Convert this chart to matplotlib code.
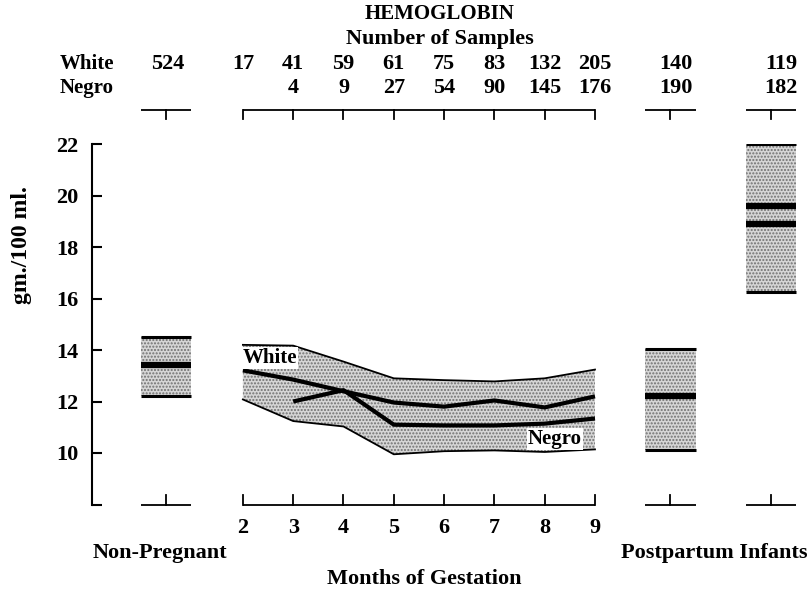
import numpy as np
import matplotlib.pyplot as plt

plt.rcParams['font.family'] = ['Liberation Serif', 'DejaVu Serif']
plt.rcParams['font.weight'] = 'bold'
plt.rcParams['hatch.linewidth'] = 1.0

# months of gestation, band limits and means
months = [2, 3, 4, 5, 6, 7, 8, 9]
band_upper = [14.2, 14.17, 13.55, 12.9, 12.83, 12.78, 12.9, 13.24]
band_lower = [12.08, 11.24, 11.03, 9.95, 10.07, 10.1, 10.04, 10.14]
white_mean = [13.21, 12.85, 12.4, 11.96, 11.8, 12.04, 11.77, 12.2]
negro_months = [3, 4, 5, 6, 7, 8, 9]
negro_mean = [12.0, 12.44, 11.1, 11.07, 11.07, 11.14, 11.34]

# separate groups: (low, high, means)
groups = ['Non-Pregnant', 'Postpartum', 'Infants']
group_x = [0.47, 10.5, 12.5]
group_lo = [12.2, 10.1, 16.25]
group_hi = [14.5, 14.05, 22.0]
group_means = [[13.4], [12.2], [19.6, 18.9]]

# number of samples
count_x = [0.5] + months + [10.6, 12.7]
white_counts = ['524', '17', '41', '59', '61', '75', '83', '132', '205', '140', '119']
negro_counts = ['', '', '4', '9', '27', '54', '90', '145', '176', '190', '182']

yticks = [8, 10, 12, 14, 16, 18, 20, 22]
ytick_labels = ['', '10', '12', '14', '16', '18', '20', '22']

fill_kw = dict(facecolor='#d6d6d6', edgecolor='#707070', hatch='.....', linewidth=0)

fig = plt.figure(figsize=(8.1, 5.89), dpi=100)
ax = fig.add_axes([92 / 810, 1 - 504.5 / 589, 718 / 810, 360.5 / 589])
ax.set_xlim(-1, -1 + 718 / 50.3)
ax.set_ylim(8, 22)

# gestation band
ax.fill_between(months, band_lower, band_upper, zorder=1, **fill_kw)
ax.plot(months, band_upper, color='black', lw=1.3, zorder=2)
ax.plot(months, band_lower, color='black', lw=1.3, zorder=2)
ax.plot(months, white_mean, color='black', lw=3, zorder=3, solid_capstyle='butt')
ax.plot(negro_months, negro_mean, color='black', lw=3, zorder=3, solid_capstyle='butt')
ax.text(2.0, 13.69, 'White', fontsize=15, ha='left', va='center', zorder=4,
        bbox=dict(facecolor='white', edgecolor='none', pad=0.5))
ax.text(7.67, 10.54, 'Negro', fontsize=15, ha='left', va='center', zorder=4,
        bbox=dict(facecolor='white', edgecolor='none', pad=0.5))

# boxes for other groups
hw = 0.5
for x, lo, hi, means in zip(group_x, group_lo, group_hi, group_means):
    ax.fill_between([x - hw, x + hw], [lo, lo], [hi, hi], zorder=1, **fill_kw)
    ax.plot([x - hw, x + hw], [hi, hi], color='black', lw=2.2, zorder=2, solid_capstyle='butt')
    ax.plot([x - hw, x + hw], [lo, lo], color='black', lw=2.2, zorder=2, solid_capstyle='butt')
    for m in means:
        ax.plot([x - hw, x + hw], [m, m], color='black', lw=4.5, zorder=3, solid_capstyle='butt')

# brackets top and bottom
def bracket(x0, x1, ticks, y, dy):
    ax.plot([x0, x1], [y, y], color='black', lw=1.3, clip_on=False, solid_capstyle='butt')
    for t in ticks:
        ax.plot([t, t], [y, y + dy], color='black', lw=1.3, clip_on=False)

top_y, bot_y, tick_len = 23.32, 8.0, 0.36
for x in group_x:
    bracket(x - hw, x + hw, [x], top_y, -tick_len)
    bracket(x - hw, x + hw, [x], bot_y, tick_len)
bracket(months[0], months[-1], months, top_y, -tick_len)
bracket(months[0], months[-1], months, bot_y, tick_len)

# sample counts
for x, w, n in zip(count_x, white_counts, negro_counts):
    ax.text(x, 25.11, w, fontsize=16, ha='center', va='center', clip_on=False)
    ax.text(x, 24.17, n, fontsize=16, ha='center', va='center', clip_on=False)

# axes styling
for s in ['top', 'right', 'bottom']:
    ax.spines[s].set_visible(False)
ax.spines['left'].set_linewidth(1.5)
ax.set_yticks(yticks, ytick_labels)
ax.tick_params(axis='y', direction='in', length=7, width=1.5, pad=10, labelsize=16)
ax.set_xticks(months, [str(m) for m in months])
ax.tick_params(axis='x', length=0, pad=10, labelsize=16)

# header and labels
def ftext(px, py, s, **kw):
    fig.text(px / 810, 1 - py / 589, s, **kw)

ftext(440, 14, 'HEMOGLOBIN', fontsize=15, ha='center', va='center')
ftext(440, 39, 'Number of Samples', fontsize=16, ha='center', va='center')
ftext(60, 64, 'White', fontsize=15, ha='left', va='center')
ftext(60, 88, 'Negro', fontsize=15, ha='left', va='center')
ftext(160, 553, 'Non-Pregnant', fontsize=16, ha='center', va='center')
ftext(714, 553, 'Postpartum Infants', fontsize=16, ha='center', va='center')
ftext(424, 579, 'Months of Gestation', fontsize=16, ha='center', va='center')
ftext(22, 245, 'gm./100 ml.', fontsize=17, ha='center', va='center', rotation=90)

fig.savefig('out.png', dpi=100)
